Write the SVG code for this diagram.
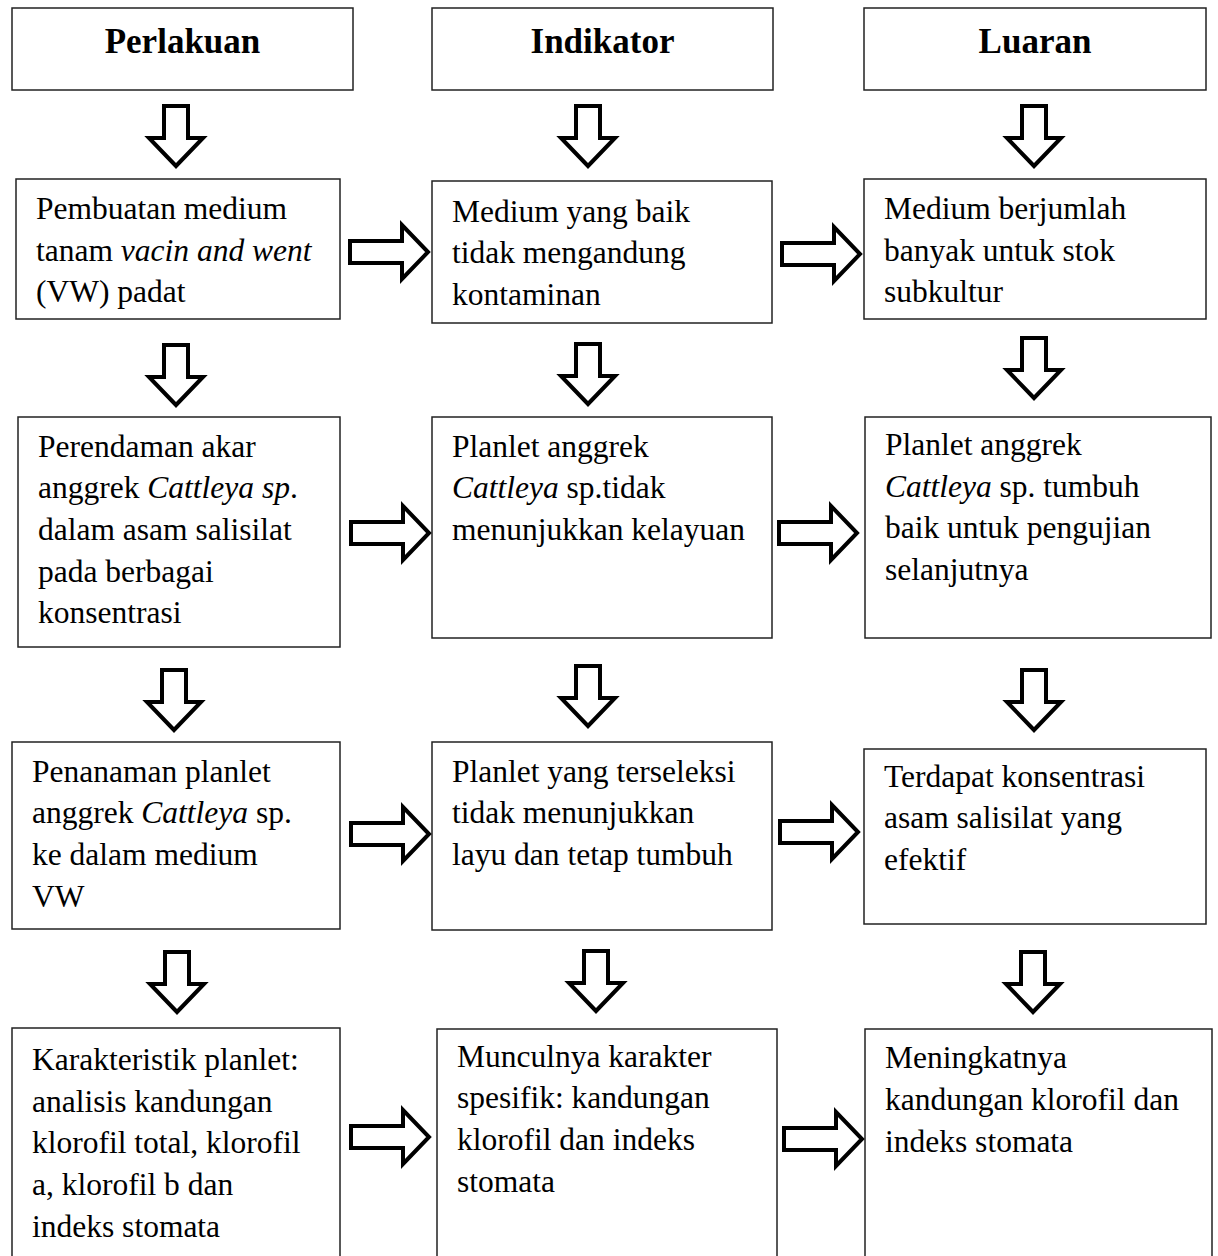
<svg xmlns="http://www.w3.org/2000/svg" width="1218" height="1256" viewBox="0 0 1218 1256">
<style>
.box{fill:#fff;stroke:#222;stroke-width:1.5}
.t{font-family:"Liberation Serif","Times New Roman",serif;font-size:31.5px;fill:#000}
.h{font-family:"Liberation Serif","Times New Roman",serif;font-size:35px;font-weight:bold;fill:#000;text-anchor:middle}
.arr{fill:#fff;stroke:#000;stroke-width:4;stroke-linejoin:miter;stroke-miterlimit:10}
</style>
<defs>
<path id="down" class="arr" d="M -12,0 H 12 V 32 H 27 L 0,60 L -27,32 H -12 Z"/>
<path id="right" class="arr" d="M 0,-11 H 52 V -27 L 78,0 L 52,27 V 11 H 0 Z"/>
</defs>
<rect width="1218" height="1256" fill="#fff"/>
<g id="h1"><rect class="box" x="12" y="8" width="341" height="82"/><text class="h" x="182.5" y="53">Perlakuan</text></g>
<g id="h2"><rect class="box" x="432" y="8" width="341" height="82"/><text class="h" x="602.5" y="53">Indikator</text></g>
<g id="h3"><rect class="box" x="864" y="8" width="342" height="82"/><text class="h" x="1035" y="53">Luaran</text></g>

<g id="p1"><rect class="box" x="16" y="179" width="324" height="140"/>
<text class="t" x="36" y="219">Pembuatan medium</text>
<text class="t" x="36" y="261">tanam <tspan font-style="italic">vacin and went</tspan></text>
<text class="t" x="36" y="302">(VW) padat</text></g>
<g id="p2"><rect class="box" x="18" y="417" width="322" height="230"/>
<text class="t" x="38" y="457">Perendaman akar</text>
<text class="t" x="38" y="498">anggrek <tspan font-style="italic">Cattleya sp</tspan>.</text>
<text class="t" x="38" y="540">dalam asam salisilat</text>
<text class="t" x="38" y="582">pada berbagai</text>
<text class="t" x="38" y="623">konsentrasi</text></g>
<g id="p3"><rect class="box" x="12" y="742" width="328" height="187"/>
<text class="t" x="32" y="782">Penanaman planlet</text>
<text class="t" x="32" y="823">anggrek <tspan font-style="italic">Cattleya</tspan> sp.</text>
<text class="t" x="32" y="865">ke dalam medium</text>
<text class="t" x="32" y="907">VW</text></g>
<g id="p4"><rect class="box" x="12" y="1028" width="328" height="240"/>
<text class="t" x="32" y="1070">Karakteristik planlet:</text>
<text class="t" x="32" y="1112">analisis kandungan</text>
<text class="t" x="32" y="1153">klorofil total, klorofil</text>
<text class="t" x="32" y="1195">a, klorofil b dan</text>
<text class="t" x="32" y="1237">indeks stomata</text></g>

<g id="i1"><rect class="box" x="432" y="181" width="340" height="142"/>
<text class="t" x="452" y="222">Medium yang baik</text>
<text class="t" x="452" y="263">tidak mengandung</text>
<text class="t" x="452" y="305">kontaminan</text></g>
<g id="i2"><rect class="box" x="432" y="417" width="340" height="221"/>
<text class="t" x="452" y="457">Planlet anggrek</text>
<text class="t" x="452" y="498"><tspan font-style="italic">Cattleya</tspan> sp.tidak</text>
<text class="t" x="452" y="540">menunjukkan kelayuan</text></g>
<g id="i3"><rect class="box" x="432" y="742" width="340" height="188"/>
<text class="t" x="452" y="782">Planlet yang terseleksi</text>
<text class="t" x="452" y="823">tidak menunjukkan</text>
<text class="t" x="452" y="865">layu dan tetap tumbuh</text></g>
<g id="i4"><rect class="box" x="437" y="1029" width="340" height="240"/>
<text class="t" x="457" y="1067">Munculnya karakter</text>
<text class="t" x="457" y="1108">spesifik: kandungan</text>
<text class="t" x="457" y="1150">klorofil dan indeks</text>
<text class="t" x="457" y="1192">stomata</text></g>

<g id="l1"><rect class="box" x="864" y="179" width="342" height="140"/>
<text class="t" x="884" y="219">Medium berjumlah</text>
<text class="t" x="884" y="261">banyak untuk stok</text>
<text class="t" x="884" y="302">subkultur</text></g>
<g id="l2"><rect class="box" x="865" y="417" width="346" height="221"/>
<text class="t" x="885" y="455">Planlet anggrek</text>
<text class="t" x="885" y="497"><tspan font-style="italic">Cattleya</tspan> sp. tumbuh</text>
<text class="t" x="885" y="538">baik untuk pengujian</text>
<text class="t" x="885" y="580">selanjutnya</text></g>
<g id="l3"><rect class="box" x="864" y="749" width="342" height="175"/>
<text class="t" x="884" y="787">Terdapat konsentrasi</text>
<text class="t" x="884" y="828">asam salisilat yang</text>
<text class="t" x="884" y="870">efektif</text></g>
<g id="l4"><rect class="box" x="865" y="1029" width="347" height="240"/>
<text class="t" x="885" y="1068">Meningkatnya</text>
<text class="t" x="885" y="1110">kandungan klorofil dan</text>
<text class="t" x="885" y="1152">indeks stomata</text></g>

<g id="connectors">
<use href="#down" x="176" y="106"/>
<use href="#down" x="176" y="345"/>
<use href="#down" x="174" y="670"/>
<use href="#down" x="177" y="952"/>
<use href="#down" x="588" y="106"/>
<use href="#down" x="588" y="344"/>
<use href="#down" x="588" y="666"/>
<use href="#down" x="596" y="951"/>
<use href="#down" x="1034" y="106"/>
<use href="#down" x="1034" y="338"/>
<use href="#down" x="1034" y="670"/>
<use href="#down" x="1033" y="952"/>
<use href="#right" x="350" y="252"/>
<use href="#right" x="782" y="254"/>
<use href="#right" x="351" y="533"/>
<use href="#right" x="779" y="533"/>
<use href="#right" x="351" y="834"/>
<use href="#right" x="780" y="832"/>
<use href="#right" x="351" y="1137"/>
<use href="#right" x="784" y="1139"/>
</g>
</svg>
